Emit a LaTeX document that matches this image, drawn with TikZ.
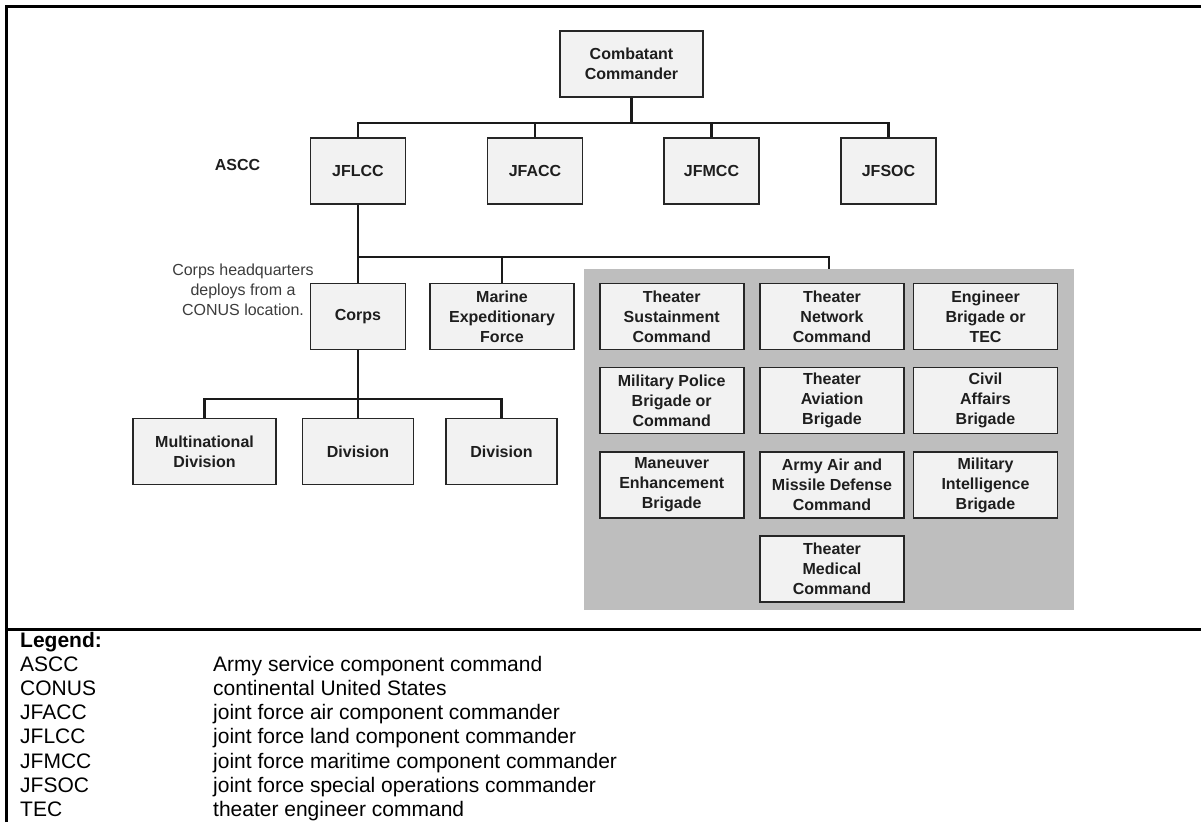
\documentclass[tikz,border=0pt]{standalone}
\usepackage{fontspec}
\setmainfont{Liberation Sans}
\definecolor{boxfill}{HTML}{F2F2F2}
\definecolor{boxline}{HTML}{262626}
\definecolor{boxtext}{HTML}{1E1E1E}
\definecolor{panelgray}{HTML}{BEBEBE}
\definecolor{notetext}{HTML}{3C3C3C}
\definecolor{linkc}{HTML}{1A1A1A}
\begin{document}
\begin{tikzpicture}[x=1pt,y=-1pt,
  unit/.style={draw=boxline, fill=boxfill, line width=1.8pt, inner sep=0pt,
    align=center, text=boxtext, font=\fontsize{16}{20}\selectfont\bfseries,
    minimum height=66pt},
  jf/.style={unit, minimum width=95pt},
  wide/.style={unit, minimum width=144pt},
  link/.style={draw=linkc, line width=2.6pt},
  frame/.style={draw=black, line width=3.5pt, line join=miter},
  legtext/.style={anchor=base west, inner sep=0pt, font=\fontsize{21}{24}\selectfont}
]
\useasboundingbox (0,0) rectangle (1201,822);

% outer frame and legend divider
\draw[frame] (6.5,822) -- (6.5,6.5) -- (1201,6.5);
\draw[frame] (5,629.5) -- (1201,629.5);

% bus levels
\coordinate (bus1) at (0,123);
\coordinate (bus2) at (0,257);
\coordinate (bus3) at (0,399);

% top commander and components
\node[unit, minimum width=143pt] (cc) at (631.5,64) {Combatant\\Commander};
\node[jf] (jflcc) at (358,171) {JFLCC};
\node[jf] (jfacc) at (535,171) {JFACC};
\node[jf] (jfmcc) at (711.5,171) {JFMCC};
\node[jf] (jfsoc) at (888.5,171) {JFSOC};
\node[font=\fontsize{16}{20}\selectfont\bfseries, text=boxtext] (ascc) at (237.5,165) {ASCC};

% land component subordinates
\node[jf] (corps) at (358,316.5) {Corps};
\node[unit, minimum width=144pt] (mef) at (502,316.5) {Marine\\Expeditionary\\Force};
\node[align=center, text=notetext, font=\fontsize{16}{20}\selectfont] (note) at (243,290) {Corps headquarters\\deploys from a\\CONUS location.};

% divisions
\node[unit, minimum width=143pt] (mnd) at (204.5,451.5) {Multinational\\Division};
\node[unit, minimum width=111pt] (diva) at (358,451.5) {Division};
\node[unit, minimum width=111pt] (divb) at (501.5,451.5) {Division};

% theater-level enablers panel
\node[fill=panelgray, minimum width=490pt, minimum height=341pt, inner sep=0pt] (panel) at (829,439.5) {};
\node[wide] (tsc)   at (671.7,316.5) {Theater\\Sustainment\\Command};
\node[wide] (tnc)   at (832,316.5)   {Theater\\Network\\Command};
\node[wide] (eng)   at (985.5,316.5) {Engineer\\Brigade or\\TEC};
\node[wide] (mp)    at (671.7,400.5) {Military Police\\Brigade or\\Command};
\node[wide] (tab)   at (832,400.5)   {Theater\\Aviation\\Brigade};
\node[wide] (ca)    at (985.5,400.5) {Civil\\Affairs\\Brigade};
\node[wide] (meb)   at (671.7,485)   {Maneuver\\Enhancement\\Brigade};
\node[wide] (aamdc) at (832,485)     {Army Air and\\Missile Defense\\Command};
\node[wide] (mi)    at (985.5,485)   {Military\\Intelligence\\Brigade};
\node[wide] (tmc)   at (832,569)     {Theater\\Medical\\Command};

% connectors: combatant commander to components
\draw[link] (cc.south) -- (cc.south |- bus1);
\draw[link] (jflcc.north) |- (jfsoc.north |- bus1) -- (jfsoc.north);
\draw[link] (jfacc.north) -- (jfacc.north |- bus1);
\draw[link] (jfmcc.north) -- (jfmcc.north |- bus1);

% connectors: land component to subordinates
\draw[link] (jflcc.south) -- (corps.north);
\draw[link] (jflcc.south |- bus2) -| (panel.north);
\draw[link] (mef.north) -- (mef.north |- bus2);

% connectors: corps to divisions
\draw[link] (corps.south) -- (diva.north);
\draw[link] (mnd.north) |- (divb.north |- bus3) -- (divb.north);

% legend
\node[legtext, font=\fontsize{21}{24}\selectfont\bfseries] (leg) at (20,647) {Legend:};
\foreach \i/\ab/\dsc in {1/ASCC/Army service component command,
  2/CONUS/continental United States,
  3/JFACC/joint force air component commander,
  4/JFLCC/joint force land component commander,
  5/JFMCC/joint force maritime component commander,
  6/JFSOC/joint force special operations commander,
  7/TEC/theater engineer command}{
  \node[legtext] (abbr\i) at (20,647+24.2*\i) {\ab};
  \node[legtext] (dsc\i) at (213,647+24.2*\i) {\dsc};
}
\end{tikzpicture}
\end{document}
